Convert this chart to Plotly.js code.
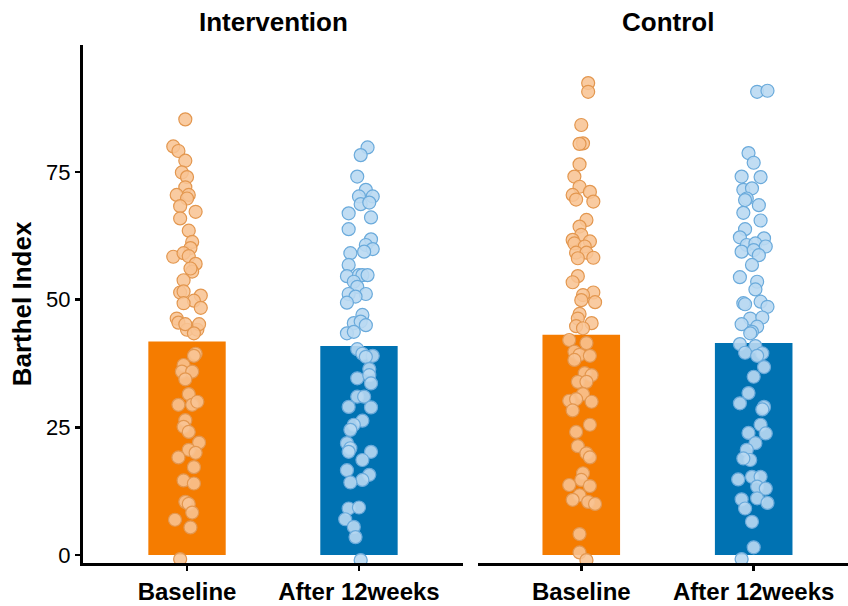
<!DOCTYPE html>
<html>
<head>
<meta charset="utf-8">
<script src="https://cdn.plot.ly/plotly-3.0.1.min.js"></script>
<style>html,body{margin:0;padding:0;background:#fff;}#chart{width:848px;height:606px;}</style>
</head>
<body>
<div id="chart"></div>
<script>
// Facets and categories
const facets = ["Intervention", "Control"];
const categories = ["Baseline", "After 12weeks"];
const yTicks = [0, 25, 50, 75];

// Bar heights (group means)
const intMeans = [41.8, 40.9];
const ctlMeans = [43.1, 41.5];

// Individual points: values and horizontal jitter (category units)
const intBaseVals = [85.3,80.0,79.1,77.2,74.9,74.0,72.0,70.5,70.5,69.8,68.3,67.2,65.9,63.5,61.3,60.1,58.4,59.1,58.5,57.0,55.5,56.1,53.8,51.4,51.6,50.8,49.8,49.3,48.4,46.3,45.5,44.1,44.1,45.2,45.2,43.4,39.4,39.0,37.2,35.9,35.9,34.4,31.5,29.4,29.4,30.0,26.4,25.1,24.1,22.0,20.6,20.0,19.1,17.2,14.6,14.0,10.4,10.0,8.3,6.9,5.4,-0.8];
const intBaseJit = [-0.01,-0.08,-0.05,-0.01,-0.03,0.00,-0.01,-0.06,0.01,0.00,-0.04,0.05,-0.04,0.01,0.03,0.02,-0.08,-0.02,0.01,0.05,0.03,0.02,-0.02,-0.04,-0.02,0.08,0.04,-0.02,0.08,-0.06,-0.05,0.00,0.06,0.07,-0.01,0.04,0.05,0.04,-0.02,-0.03,0.03,-0.01,0.01,-0.05,0.03,0.06,-0.01,-0.02,0.01,0.07,0.01,0.05,-0.05,0.04,-0.02,0.04,-0.01,0.01,0.03,-0.07,0.02,-0.04];

const intAfterVals = [79.8,78.3,74.1,71.5,70.2,70.2,68.7,69.0,66.9,66.1,63.8,61.8,60.7,59.9,59.4,59.1,56.8,54.6,54.8,54.8,54.8,53.5,52.5,51.1,51.1,50.6,49.4,47.0,45.4,45.7,45.0,43.4,43.7,40.3,39.4,39.0,38.8,36.4,34.6,35.2,33.6,31.0,31.0,29.0,28.9,26.3,25.5,24.5,21.9,20.9,20.2,20.2,18.6,16.6,15.7,14.7,14.2,9.1,9.3,7.0,5.5,3.5,-1.0];
const intAfterJit = [0.05,0.01,-0.01,0.04,0.00,0.08,0.01,0.06,-0.06,0.07,-0.06,0.07,0.04,0.08,0.03,-0.05,-0.06,-0.07,0.00,0.02,0.05,-0.03,-0.01,-0.06,0.04,-0.02,-0.07,0.02,-0.03,0.01,0.04,-0.07,-0.03,-0.01,0.02,0.08,0.04,0.06,-0.01,0.06,0.07,-0.01,0.03,-0.06,0.07,0.02,-0.03,-0.05,-0.07,-0.05,-0.06,0.07,0.02,-0.07,0.06,0.02,-0.05,-0.06,0.00,-0.08,-0.03,-0.02,0.01];

const ctlBaseVals = [92.4,90.7,84.2,80.6,80.5,76.5,74.1,72.1,71.1,70.5,69.6,69.2,65.6,64.3,62.7,61.7,61.4,61.0,60.4,59.2,59.2,58.1,58.2,54.6,53.4,51.4,50.9,49.5,49.9,47.2,46.3,45.4,44.8,44.4,42.1,41.5,39.8,39.2,39.0,38.2,35.6,35.2,33.9,33.9,31.5,30.2,30.5,30.0,28.3,25.5,24.1,21.3,19.9,19.1,16.0,14.7,13.7,13.5,11.7,10.8,10.4,10.0,4.1,0.5,-1.0];
const ctlBaseJit = [0.04,0.04,0.00,0.01,-0.01,-0.01,-0.04,-0.01,0.05,-0.05,-0.03,0.07,0.03,-0.01,0.00,-0.05,0.05,-0.04,0.02,-0.03,0.03,-0.02,0.07,-0.02,-0.05,0.07,0.01,0.08,0.00,-0.01,-0.02,0.06,-0.03,0.01,-0.07,0.03,-0.04,-0.01,0.05,-0.04,0.02,0.06,-0.02,0.03,0.01,-0.07,-0.03,0.06,-0.05,0.05,-0.03,-0.02,0.03,0.05,0.01,0.00,-0.07,0.05,-0.01,-0.05,0.04,0.08,-0.01,-0.01,0.03];

const ctlAfterVals = [90.7,90.9,78.7,76.8,74.1,74.0,71.5,71.8,69.8,69.5,68.5,67.0,65.5,63.8,62.2,62.0,60.7,61.0,60.4,59.4,59.7,58.7,56.8,54.4,53.5,52.0,49.3,49.1,49.6,48.6,46.3,46.5,45.2,44.7,43.7,43.4,41.3,40.9,39.6,39.5,39.0,36.8,34.9,31.7,29.7,29.0,28.5,25.5,23.8,23.9,21.9,20.6,18.6,18.9,14.8,15.3,15.3,13.4,13.0,10.9,11.1,9.1,10.2,6.5,1.5,-0.8];
const ctlAfterJit = [0.02,0.08,-0.03,0.00,-0.07,0.04,-0.06,-0.01,-0.04,-0.05,0.03,-0.06,0.04,-0.05,-0.08,0.06,-0.04,0.01,0.07,-0.07,0.00,0.03,-0.01,-0.08,0.02,0.01,-0.06,-0.05,0.04,0.08,-0.02,0.05,-0.07,0.02,-0.01,-0.02,-0.08,0.01,-0.05,0.05,0.02,0.06,0.00,-0.03,-0.08,0.06,0.05,0.04,0.07,-0.03,0.01,-0.04,-0.02,-0.06,-0.09,-0.01,0.04,0.02,0.07,-0.07,0.02,-0.05,0.08,-0.01,0.00,-0.07];

// Styles
const barColors = ["#F57C00", "#0072B2"];
const ptFill = ["rgba(248,196,148,0.88)", "rgba(186,217,242,0.9)"];
const ptLine = ["#E3974F", "#6AAADB"];

function pts(vals, jit, ci, xa) {
  return {
    type: "scatter", mode: "markers", xaxis: xa, yaxis: "y",
    x: vals.map((v, i) => ci + jit[i]), y: vals,
    marker: {size: 13, color: ptFill[ci], line: {color: ptLine[ci], width: 1.2}},
    hoverinfo: "skip", showlegend: false
  };
}
function bars(means, xa) {
  return {
    type: "bar", xaxis: xa, yaxis: "y", x: [0, 1], y: means, width: 0.45,
    marker: {color: barColors, line: {width: 0}}, showlegend: false, hoverinfo: "skip"
  };
}

const data = [
  bars(intMeans, "x"), bars(ctlMeans, "x2"),
  pts(intBaseVals, intBaseJit, 0, "x"), pts(intAfterVals, intAfterJit, 1, "x"),
  pts(ctlBaseVals, ctlBaseJit, 0, "x2"), pts(ctlAfterVals, ctlAfterJit, 1, "x2")
];

const fontFam = "Liberation Sans, Arial, sans-serif";
const xCommon = {
  tickvals: [0, 1], ticktext: categories, showline: true, linecolor: "#000", linewidth: 3,
  ticks: "outside", ticklen: 5, tickwidth: 2.5, tickcolor: "#000", showgrid: false, zeroline: false,
  tickfont: {family: fontFam, size: 24, color: "#000", weight: "bold"}, anchor: "y", fixedrange: true
};

const layout = {
  width: 848, height: 606,
  margin: {l: 83, r: 0, t: 45, b: 43},
  paper_bgcolor: "#fff", plot_bgcolor: "#fff",
  barmode: "overlay",
  xaxis: Object.assign({}, xCommon, {domain: [0, 380/765], range: [-0.605, 1.605]}),
  xaxis2: Object.assign({}, xCommon, {domain: [395/765, 1], range: [-0.599, 1.547]}),
  yaxis: {
    range: [-1.57, 99.86], tickvals: yTicks, showline: true, linecolor: "#000", linewidth: 3,
    ticks: "outside", ticklen: 5, tickwidth: 2.5, tickcolor: "#000", showgrid: false, zeroline: false,
    tickfont: {family: fontFam, size: 22, color: "#000"}, anchor: "x",
    title: {text: "Barthel Index", font: {family: fontFam, size: 26, color: "#000", weight: "bold"}, standoff: 8}
  },
  annotations: facets.map((f, i) => ({
    text: "<b>" + f + "</b>", xref: "paper", yref: "paper",
    x: i === 0 ? 190/765 : 585/765, y: 1, yshift: 23, xanchor: "center", yanchor: "middle",
    showarrow: false, font: {family: fontFam, size: 26, color: "#000"}
  })),
  showlegend: false
};

Plotly.newPlot("chart", data, layout, {displayModeBar: false, staticPlot: true});
</script>
</body>
</html>
